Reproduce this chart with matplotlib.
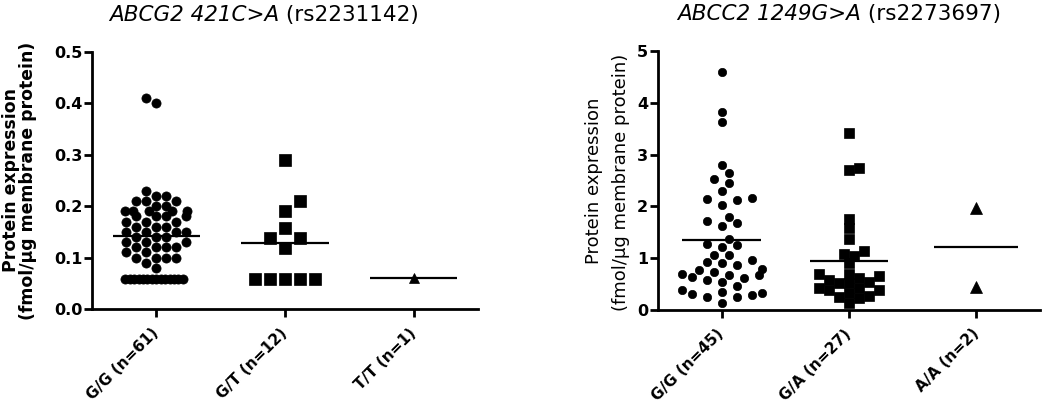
import numpy as np
import matplotlib
matplotlib.use("Agg")
import matplotlib.pyplot as plt

# ---------------- data ----------------
left_title_italic = "ABCG2 421C>A"
left_title_rest = " (rs2231142)"
right_title_italic = "ABCC2 1249G>A"
right_title_rest = " (rs2273697)"

left_categories = ["G/G (n=61)", "G/T (n=12)", "T/T (n=1)"]
right_categories = ["G/G (n=45)", "G/A (n=27)", "A/A (n=2)"]

abcg2_GG = [0.41, 0.40, 0.08,
            0.058, 0.058, 0.058, 0.058, 0.058, 0.058, 0.058,
            0.058, 0.058, 0.058, 0.058, 0.058, 0.058, 0.058,
            0.09, 0.10, 0.10, 0.10, 0.10, 0.11, 0.11, 0.12, 0.12, 0.12,
            0.12, 0.13, 0.13, 0.13, 0.14, 0.14, 0.14, 0.15, 0.15, 0.15,
            0.15, 0.16, 0.16, 0.16, 0.17, 0.17, 0.17, 0.18, 0.18, 0.18,
            0.18, 0.19, 0.19, 0.19, 0.19, 0.19, 0.20, 0.20, 0.21, 0.21,
            0.21, 0.22, 0.22, 0.23]
abcg2_GT = [0.289, 0.21, 0.19, 0.158, 0.139, 0.139, 0.118,
            0.058, 0.058, 0.058, 0.058, 0.058]
abcg2_TT = [0.06]

abcc2_GG = [4.60, 3.83, 3.62, 2.79, 2.65, 2.45, 2.53, 2.30, 2.16, 2.14,
            2.03, 2.12, 1.80, 1.72, 1.62, 1.67, 1.38,
            1.25, 1.22, 1.27, 1.06, 1.06, 0.93, 0.97, 0.90, 0.86, 0.80,
            0.77, 0.74, 0.70, 0.68, 0.68, 0.64, 0.61, 0.58, 0.55, 0.47,
            0.39, 0.35, 0.33, 0.31, 0.29, 0.26, 0.26, 0.14]
abcc2_GA = [3.41, 2.75, 2.70, 1.76, 1.58, 1.37, 1.09, 1.05, 1.13, 0.90,
            0.69, 0.66, 0.69, 0.58, 0.61, 0.55, 0.53, 0.52, 0.42, 0.42,
            0.39, 0.39, 0.26, 0.23, 0.27, 0.14, 0.33]
abcc2_AA = [1.97, 0.45]

left_yticks = [0.0, 0.1, 0.2, 0.3, 0.4, 0.5]
left_yticklabels = ["0.0", "0.1", "0.2", "0.3", "0.4", "0.5"]
right_yticks = [0, 1, 2, 3, 4, 5]
right_yticklabels = ["0", "1", "2", "3", "4", "5"]

ylabel_line1 = "Protein expression"
ylabel_line2 = "(fmol/\u00b5g membrane protein)"

# ---------------- figure ----------------
plt.rcParams['font.family'] = ['DejaVu Sans']
W, H = 1050, 407
fig = plt.figure(figsize=(W / 100, H / 100), dpi=100)


def px_axes(x0, x1, ytop, ybot):
    return fig.add_axes([x0 / W, (H - ybot) / H, (x1 - x0) / W, (ybot - ytop) / H])


axL = px_axes(92, 478, 52, 309)
axR = px_axes(658, 1040, 51, 310)


def style_axes(ax, yticks, yticklabels, ylim, cats):
    ax.set_xlim(-0.5, 2.5)
    ax.set_ylim(*ylim)
    for s in ("top", "right"):
        ax.spines[s].set_visible(False)
    for s in ("left", "bottom"):
        ax.spines[s].set_linewidth(2.0)
        ax.spines[s].set_capstyle("projecting")
    ax.set_yticks(yticks)
    ax.set_yticklabels(yticklabels, fontweight="bold", fontsize=11.5)
    ax.set_xticks([0, 1, 2])
    ax.set_xticklabels(cats, rotation=45, ha="right", va="center",
                       rotation_mode="anchor", fontweight="bold", fontsize=11)
    ax.tick_params(axis="y", direction="out", length=5.5, width=2, pad=1.5)
    ax.tick_params(axis="x", direction="out", length=5.5, width=2, pad=10)


style_axes(axL, left_yticks, left_yticklabels, (0, 0.5), left_categories)
style_axes(axR, right_yticks, right_yticklabels, (0, 5), right_categories)

fig.canvas.draw()
renderer = fig.canvas.get_renderer()


def swarm_offsets(ax, values, d_px, step_px, limit_px, first_sign=1):
    bbox = ax.get_window_extent(renderer)
    y0, y1 = ax.get_ylim()
    x0, x1 = ax.get_xlim()
    vals = np.asarray(values, dtype=float)
    ypx = (vals - y0) / (y1 - y0) * bbox.height
    order = np.argsort(ypx, kind="stable")
    px_list, py_list = [], []
    off = np.zeros(len(vals))
    for i in order:
        k = 0
        while True:
            if k == 0:
                cand = 0.0
            else:
                cand = ((k + 1) // 2) * step_px * (first_sign if k % 2 == 1 else -first_sign)
            ok = True
            for qx, qy in zip(px_list, py_list):
                if (cand - qx) ** 2 + (ypx[i] - qy) ** 2 < d_px ** 2:
                    ok = False
                    break
            if ok:
                break
            k += 1
        off[i] = cand
        px_list.append(cand)
        py_list.append(ypx[i])
    for v in np.unique(vals):
        m = vals == v
        mx = np.abs(off[m]).max()
        if mx > limit_px:
            off[m] *= limit_px / mx
    return off / bbox.width * (x1 - x0)


def draw_group(ax, pos, values, marker, ms, d_px, step_px, limit_px, half=0.34,
               first_sign=1):
    offs = swarm_offsets(ax, values, d_px, step_px, limit_px, first_sign)
    ax.plot(pos + offs, values, linestyle="none", marker=marker, ms=ms,
            color="black", mec="black", mew=0.5, clip_on=False, zorder=3)
    m = float(np.mean(values))
    ax.plot([pos - half, pos + half], [m, m], color="black", lw=1.6,
            solid_capstyle="butt", zorder=4, clip_on=False)


draw_group(axL, 0, abcg2_GG, "o", 6.6, 10.0, 5.0, 31, first_sign=-1)
draw_group(axL, 1, abcg2_GT, "s", 8.3, 15.0, 7.5, 40)
draw_group(axL, 2, abcg2_TT, "^", 7.5, 10.0, 5.0, 40)

draw_group(axR, 0, abcc2_GG, "o", 6.0, 10.0, 7.5, 40, half=0.31)
draw_group(axR, 1, abcc2_GA, "s", 7.2, 8.5, 5.0, 40, half=0.31)
draw_group(axR, 2, abcc2_AA, "^", 8.0, 10.0, 5.0, 40, half=0.33)


# ---------------- titles ----------------
def two_part_title(cx, base, italic, rest, size):
    t1 = fig.text(0, 0, italic, style="italic", fontsize=size, ha="left", va="baseline")
    t2 = fig.text(0, 0, rest, fontsize=size, ha="left", va="baseline")
    w1 = t1.get_window_extent(renderer).width
    w2 = t2.get_window_extent(renderer).width
    xl = cx - (w1 + w2) / 2
    t1.set_position((xl / W, 1 - base / H))
    t2.set_position(((xl + w1) / W, 1 - base / H))


two_part_title(264, 21, left_title_italic, left_title_rest, 15.5)
two_part_title(839, 20, right_title_italic, right_title_rest, 15.5)

# ---------------- y labels ----------------
fig.text(11 / W, 1 - 180 / H, ylabel_line1, rotation=90, ha="center", va="center",
         fontweight="bold", fontsize=12.4)
fig.text(28.5 / W, 1 - 181 / H, ylabel_line2, rotation=90, ha="center", va="center",
         fontweight="bold", fontsize=12.4)
fig.text(594 / W, 1 - 181 / H, ylabel_line1, rotation=90, ha="center", va="center",
         fontsize=13)
fig.text(621 / W, 1 - 182 / H, ylabel_line2, rotation=90, ha="center", va="center",
         fontsize=13)

fig.savefig("out.png", dpi=100)
